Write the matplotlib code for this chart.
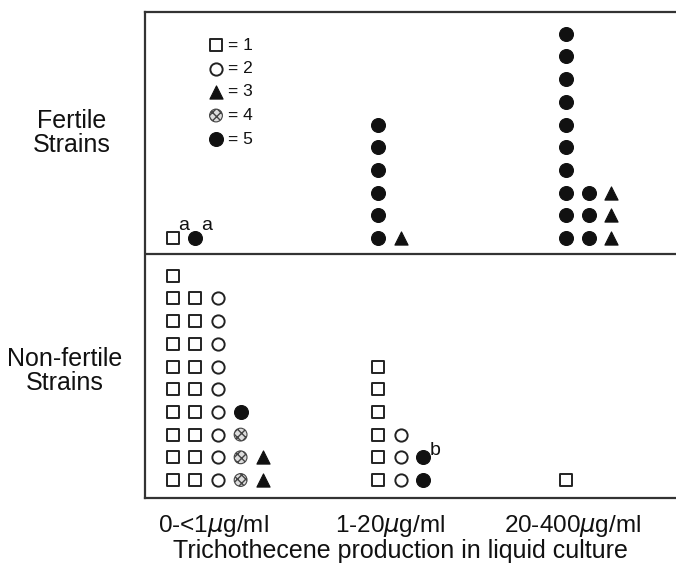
import matplotlib
matplotlib.use("Agg")
import matplotlib.pyplot as plt

plt.rcParams['font.family'] = ['Liberation Sans', 'DejaVu Sans']

# categories and strain groups
categories = ['0-<1$\\mu$g/ml', '1-20$\\mu$g/ml', '20-400$\\mu$g/ml']
legend_types = [1, 2, 3, 4, 5]

# each group: list of columns, each column is a stack of chemotype codes (bottom first)
fertile_low = [[1], [5]]
fertile_mid = [[5, 5, 5, 5, 5, 5], [3]]
fertile_high = [[5, 5, 5, 5, 5, 5, 5, 5, 5, 5], [5, 5, 5], [3, 3, 3]]

nonfertile_low = [[1] * 10, [1] * 9, [2] * 9, [4, 4, 4, 5], [3, 3]]
nonfertile_mid = [[1] * 6, [2] * 3, [5, 5]]
nonfertile_high = [[1]]

# footnote letters: (group, column, row, letter)
fertile_notes = [(0, 0, 0, 'a'), (0, 1, 0, 'a')]
nonfertile_notes = [(1, 2, 1, 'b')]

# layout (figure pixel units)
group_x = [172.5, 378, 566]
label_x = [213, 390, 573]
dx = 22.7
dy = 22.7
base_fertile = 327
base_nonfertile = 85
note_lift = {'a': 4, 'b': -2}

styles = {
    1: dict(marker='s', s=70, facecolors='white', edgecolors='#222222', linewidths=1.4),
    2: dict(marker='o', s=78, facecolors='white', edgecolors='#222222', linewidths=1.4),
    3: dict(marker='^', s=90, facecolors='#111111', edgecolors='#111111', linewidths=0.8),
    4: dict(marker='o', s=85, facecolors='#dddddd', edgecolors='#444444', linewidths=0.8, hatch='xxxx'),
    5: dict(marker='o', s=100, facecolors='#111111', edgecolors='#111111', linewidths=0.8),
}

fig = plt.figure(figsize=(6.76, 5.65), dpi=100)
ax = fig.add_axes([145 / 676, 67 / 565, 531 / 676, 486 / 565])
ax.set_xlim(145, 676)
ax.set_ylim(67, 553)
for side in ['left', 'top', 'bottom']:
    ax.spines[side].set_linewidth(1.6)
    ax.spines[side].set_color('#333333')
ax.spines['right'].set_visible(False)
ax.axhline(311, color='#333333', lw=1.6)


def draw_groups(groups, base, notes):
    for g, cols in enumerate(groups):
        for c, stack in enumerate(cols):
            for r, t in enumerate(stack):
                ax.scatter(group_x[g] + c * dx, base + r * dy, zorder=3, clip_on=False, **styles[t])
    for g, c, r, letter in notes:
        ax.text(group_x[g] + c * dx + 6, base + r * dy + note_lift[letter], letter, fontsize=14,
                ha='left', va='bottom', color='#111111')


draw_groups([fertile_low, fertile_mid, fertile_high], base_fertile, fertile_notes)
draw_groups([nonfertile_low, nonfertile_mid, nonfertile_high], base_nonfertile, nonfertile_notes)

# legend
for i, t in enumerate(legend_types):
    y = 520 - i * 23.5
    ax.scatter(216, y, zorder=3, **styles[t])
    ax.text(228, y, '= %d' % t, fontsize=12.5, ha='left', va='center', color='#111111')

# category labels
ax.set_xticks(label_x)
ax.set_xticklabels(categories, fontsize=17.5, color='#111111')
ax.tick_params(axis='x', length=0, pad=11)
ax.set_yticks([])
ax.set_xlabel('Trichothecene production in liquid culture', fontsize=18, color='#111111', labelpad=0)
ax.xaxis.set_label_coords((400 - 145) / 531, -0.085)

fig.text(72 / 676, 1 - 133 / 565, 'Fertile\nStrains', fontsize=18, ha='center', va='center',
         linespacing=1.0, color='#111111')
fig.text(65 / 676, 1 - 371 / 565, 'Non-fertile\nStrains', fontsize=18, ha='center', va='center',
         linespacing=1.0, color='#111111')

fig.savefig('out.png', dpi=100)
